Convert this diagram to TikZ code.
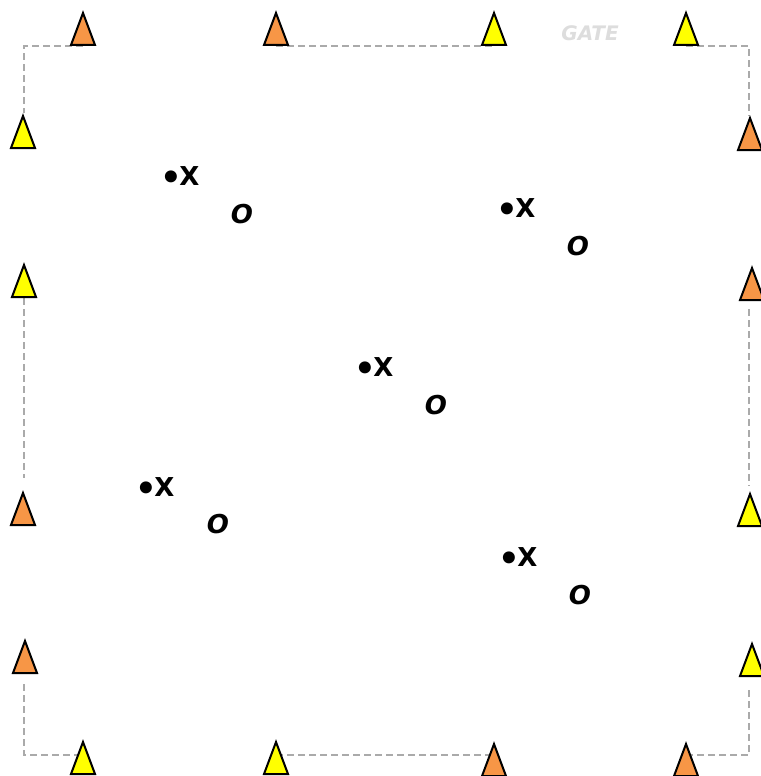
\documentclass[tikz,border=0pt]{standalone}
\usepackage{fontspec}
\setmainfont{DejaVu Sans}
\usetikzlibrary{shapes.geometric,backgrounds}
\definecolor{ConeOrange}{HTML}{F79646}
\definecolor{ConeYellow}{HTML}{FFFF00}
\definecolor{FenceGray}{HTML}{AAAAAA}
\definecolor{GateGray}{HTML}{DDDDDD}
\newcommand{\dotx}{{\fontsize{17}{15}\selectfont\raisebox{-1.6pt}{\textbullet}}\kern-1.5pt X}

\begin{document}
\begin{tikzpicture}[
  x=0.5pt, y=-0.5pt,
  cone/.style={isosceles triangle, shape border rotate=90, isosceles triangle stretches,
    draw=black, line width=1pt, fill=#1, minimum width=12pt, minimum height=16pt,
    inner sep=0pt, anchor=south},
  fence/.style={draw=FenceGray, line width=0.9pt, dash pattern=on 3.5pt off 2pt},
  player/.style={font=\fontsize{13}{15}\selectfont\bfseries, inner sep=0pt},
  ball/.style={font=\fontsize{13}{15}\selectfont\bfseries\itshape, inner sep=0pt},
  gate/.style={font=\fontsize{10}{12}\selectfont\bfseries\itshape, text=GateGray, inner sep=0pt}
]
\useasboundingbox (0,0) rectangle (760,776);
% field corners
\coordinate (nw) at (24,46);
\coordinate (ne) at (749,46);
\coordinate (sw) at (24,755);
\coordinate (se) at (749,755);
% cones, top row
\node[cone=ConeOrange] (t1) at (83,46) {};
\node[cone=ConeOrange] (t2) at (276,46) {};
\node[cone=ConeYellow] (t3) at (494,46) {};
\node[cone=ConeYellow] (t4) at (686,46) {};
% cones, left side
\node[cone=ConeYellow] (l1) at (23,149) {};
\node[cone=ConeYellow] (l2) at (24,298) {};
\node[cone=ConeOrange] (l3) at (23,526) {};
\node[cone=ConeOrange] (l4) at (25,674) {};
% cones, right side
\node[cone=ConeOrange] (r1) at (750,151) {};
\node[cone=ConeOrange] (r2) at (752,301) {};
\node[cone=ConeYellow] (r3) at (750,527) {};
\node[cone=ConeYellow] (r4) at (752,677) {};
% cones, bottom row
\node[cone=ConeYellow] (b1) at (83,775) {};
\node[cone=ConeYellow] (b2) at (276,775) {};
\node[cone=ConeOrange] (b3) at (494,777) {};
\node[cone=ConeOrange] (b4) at (686,777) {};
% fence lines
\begin{scope}[on background layer]
\draw[fence] (t1.south) -- (nw) -- (nw |- l1.north);
\draw[fence] (t2.south) -- (t3.south);
\draw[fence] (t4.south) -- (ne) -- (ne |- r1.north);
\draw[fence, shorten >=6pt] (nw |- l2.south) -- (nw |- l3.north);
\draw[fence, shorten <=4pt, shorten >=3pt] (ne |- r2.south) -- (ne |- r3.north);
\draw[fence, shorten <=5pt] (sw |- l4.south) -- (sw) -- (sw -| b1);
\draw[fence] (sw -| b2) -- (sw -| b3);
\draw[fence, shorten >=5pt] (se -| b4) -- (se) -- (se |- r4.south);
\end{scope}
\node[gate] (gate) at (590,33) {GATE};
% players and balls
\node[player] (x1) at (180,178) {\dotx};
\node[player] (x2) at (516,210) {\dotx};
\node[player] (x3) at (374,369) {\dotx};
\node[player] (x4) at (155,489) {\dotx};
\node[player] (x5) at (518,559) {\dotx};
\node[ball] (o1) at (242,214) {O};
\node[ball] (o2) at (578,246) {O};
\node[ball] (o3) at (436,405) {O};
\node[ball] (o4) at (218,524) {O};
\node[ball] (o5) at (580,595) {O};
\end{tikzpicture}
\end{document}
